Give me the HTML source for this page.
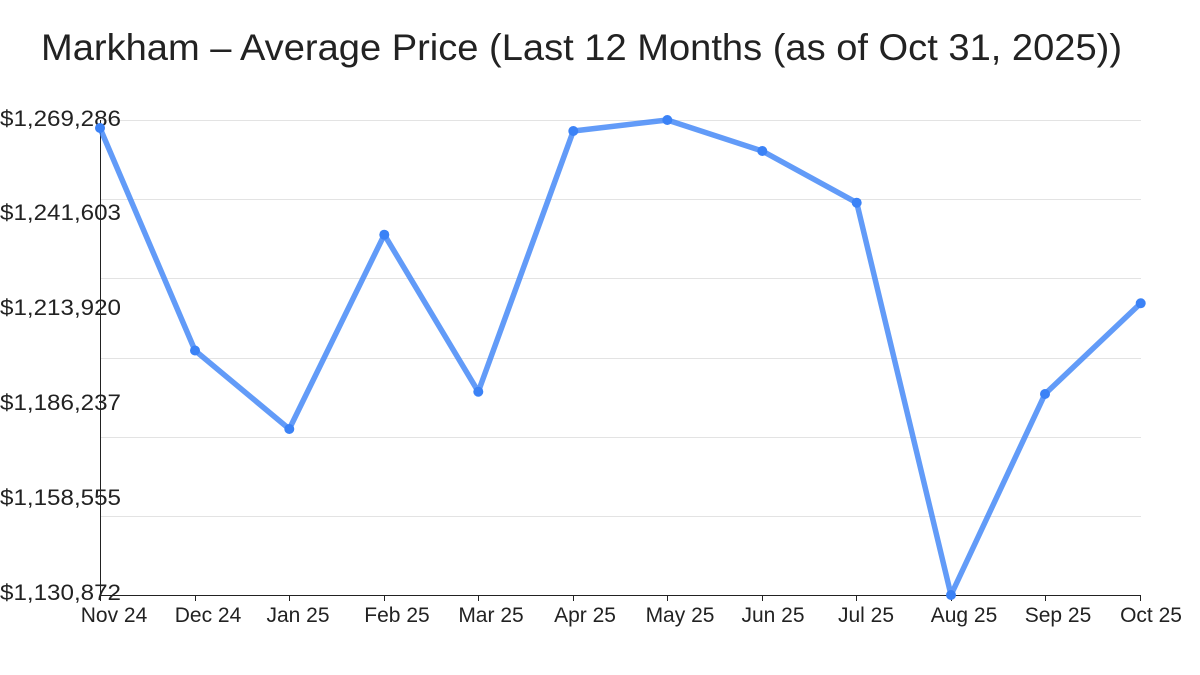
<!DOCTYPE html>
<html><head><meta charset="utf-8"><style>
html,body{margin:0;padding:0;background:#fff;}
svg{display:block;}
text{font-family:"Liberation Sans","DejaVu Sans",sans-serif;fill:#222;}
</style></head><body>
<svg width="1200" height="675" viewBox="0 0 1200 675" xmlns="http://www.w3.org/2000/svg">
<rect width="1200" height="675" fill="#fff"/>
<text x="41" y="60" font-size="37" textLength="1081" lengthAdjust="spacingAndGlyphs">Markham – Average Price (Last 12 Months (as of Oct 31, 2025))</text>
<g stroke="#e3e3e3" stroke-width="1">
<line x1="100" y1="120.5" x2="1141" y2="120.5"/>
<line x1="100" y1="199.5" x2="1141" y2="199.5"/>
<line x1="100" y1="278.5" x2="1141" y2="278.5"/>
<line x1="100" y1="358.5" x2="1141" y2="358.5"/>
<line x1="100" y1="437.5" x2="1141" y2="437.5"/>
<line x1="100" y1="516.5" x2="1141" y2="516.5"/>
</g>
<g font-size="22">
<text x="0" y="126" textLength="121" lengthAdjust="spacingAndGlyphs">$1,269,286</text>
<text x="0" y="220" textLength="121" lengthAdjust="spacingAndGlyphs">$1,241,603</text>
<text x="0" y="315" textLength="121" lengthAdjust="spacingAndGlyphs">$1,213,920</text>
<text x="0" y="410" textLength="121" lengthAdjust="spacingAndGlyphs">$1,186,237</text>
<text x="0" y="505" textLength="121" lengthAdjust="spacingAndGlyphs">$1,158,555</text>
<text x="0" y="600" textLength="121" lengthAdjust="spacingAndGlyphs">$1,130,872</text>
</g>
<line x1="100.5" y1="120" x2="100.5" y2="595" stroke="#222" stroke-width="1"/>
<line x1="100" y1="595.5" x2="1141" y2="595.5" stroke="#222" stroke-width="1"/>
<g stroke="#222" stroke-width="1">
<line x1="100.5" y1="595" x2="100.5" y2="601"/>
<line x1="195.5" y1="595" x2="195.5" y2="601"/>
<line x1="289.5" y1="595" x2="289.5" y2="601"/>
<line x1="384.5" y1="595" x2="384.5" y2="601"/>
<line x1="478.5" y1="595" x2="478.5" y2="601"/>
<line x1="573.5" y1="595" x2="573.5" y2="601"/>
<line x1="667.5" y1="595" x2="667.5" y2="601"/>
<line x1="762.5" y1="595" x2="762.5" y2="601"/>
<line x1="856.5" y1="595" x2="856.5" y2="601"/>
<line x1="951.5" y1="595" x2="951.5" y2="601"/>
<line x1="1045.5" y1="595" x2="1045.5" y2="601"/>
<line x1="1140.5" y1="595" x2="1140.5" y2="601"/>
</g>
<g font-size="21" text-anchor="middle">
<text x="114" y="622">Nov 24</text>
<text x="208" y="622">Dec 24</text>
<text x="298" y="622">Jan 25</text>
<text x="397" y="622">Feb 25</text>
<text x="491" y="622">Mar 25</text>
<text x="585" y="622">Apr 25</text>
<text x="680" y="622">May 25</text>
<text x="773" y="622">Jun 25</text>
<text x="866" y="622">Jul 25</text>
<text x="964" y="622">Aug 25</text>
<text x="1058" y="622">Sep 25</text>
<text x="1151" y="622">Oct 25</text>
</g>
<polyline fill="none" stroke="#3b82f6" stroke-opacity="0.8" stroke-width="5.5" stroke-linejoin="round"
points="100,128 195,350.5 289.3,429 384.3,234.7 478.3,391.7 573.3,131 667.3,120 762.3,151 856.7,202.7 951,595 1045,394 1140.7,303.3"/>
<g fill="#3b82f6">
<circle cx="100" cy="128" r="5"/>
<circle cx="195" cy="350.5" r="5"/>
<circle cx="289.3" cy="429" r="5"/>
<circle cx="384.3" cy="234.7" r="5"/>
<circle cx="478.3" cy="391.7" r="5"/>
<circle cx="573.3" cy="131" r="5"/>
<circle cx="667.3" cy="120" r="5"/>
<circle cx="762.3" cy="151" r="5"/>
<circle cx="856.7" cy="202.7" r="5"/>
<circle cx="951" cy="595" r="5"/>
<circle cx="1045" cy="394" r="5"/>
<circle cx="1140.7" cy="303.3" r="5"/>
</g>
</svg>
</body></html>
